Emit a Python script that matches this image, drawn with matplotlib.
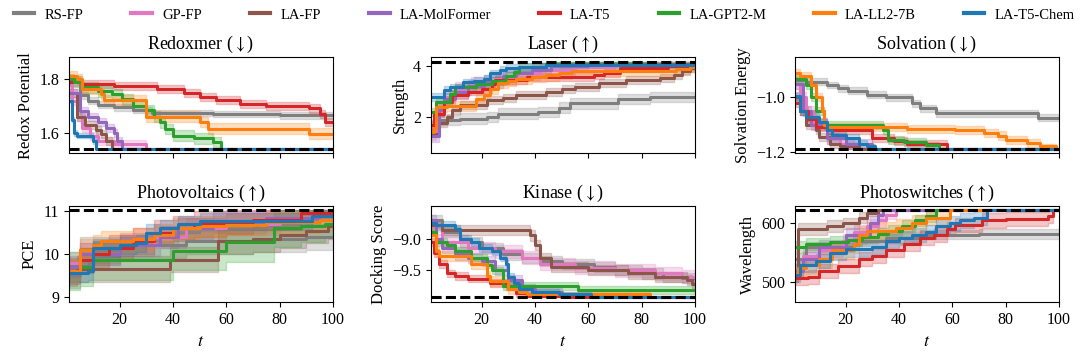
import matplotlib.pyplot as plt
import numpy as np
from matplotlib.lines import Line2D

plt.rcParams['font.family'] = ['Liberation Serif', 'DejaVu Serif']
plt.rcParams['mathtext.fontset'] = 'stix'

methods = ['RS-FP', 'GP-FP', 'LA-FP', 'LA-MolFormer', 'LA-T5', 'LA-GPT2-M', 'LA-LL2-7B', 'LA-T5-Chem']
colors = ['#7f7f7f', '#e377c2', '#8c564b', '#9467bd', '#d62728', '#2ca02c', '#ff7f0e', '#1f77b4']

# best-so-far curves: (step times, values) per method
redox = {
    'RS-FP': ([1, 5, 8, 12, 18, 25, 32, 55, 80], [1.80, 1.74, 1.72, 1.705, 1.695, 1.685, 1.675, 1.67, 1.665]),
    'GP-FP': ([1, 2, 4, 6, 9, 12, 18, 30], [1.78, 1.72, 1.66, 1.62, 1.59, 1.57, 1.56, 1.539]),
    'LA-FP': ([1, 4, 7, 11, 13, 15, 17], [1.75, 1.66, 1.63, 1.61, 1.595, 1.57, 1.539]),
    'LA-MolFormer': ([1, 5, 8, 12, 15, 18, 19, 21], [1.75, 1.68, 1.66, 1.64, 1.62, 1.60, 1.57, 1.539]),
    'LA-T5': ([1, 6, 18, 34, 44, 50, 56, 65, 75, 91, 95, 97],
              [1.79, 1.781, 1.775, 1.765, 1.747, 1.734, 1.722, 1.709, 1.70, 1.691, 1.672, 1.641]),
    'LA-GPT2-M': ([1, 3, 6, 12, 17, 21, 25, 30, 33, 35, 37, 40, 48, 55, 58],
                  [1.80, 1.79, 1.77, 1.755, 1.745, 1.725, 1.70, 1.685, 1.66, 1.64, 1.615, 1.59, 1.58, 1.566, 1.539]),
    'LA-LL2-7B': ([1, 4, 6, 13, 14, 30, 50, 53, 91], [1.81, 1.80, 1.765, 1.745, 1.722, 1.66, 1.641, 1.616, 1.597]),
    'LA-T5-Chem': ([1, 2, 3, 4, 10, 11], [1.72, 1.65, 1.60, 1.59, 1.57, 1.539]),
}
laser = {
    'RS-FP': ([1, 4, 12, 22, 26, 41, 49, 53, 71, 83], [1.7, 1.9, 1.96, 2.03, 2.15, 2.2, 2.38, 2.54, 2.72, 2.8]),
    'GP-FP': ([1, 3, 6, 10, 16, 25, 33, 42, 55, 70, 85], [1.4, 2.3, 2.8, 3.1, 3.3, 3.5, 3.7, 3.85, 3.95, 4.05, 4.1]),
    'LA-FP': ([1, 4, 7, 9, 12, 22, 28, 33, 44, 50, 55, 64, 74, 87, 92, 95, 98],
              [1.38, 1.8, 2.0, 2.28, 2.48, 2.67, 2.76, 2.88, 2.97, 3.1, 3.18, 3.32, 3.45, 3.52, 3.64, 3.78, 3.9]),
    'LA-MolFormer': ([1, 4, 6, 10, 15, 21, 28, 33, 39, 46, 60], [1.3, 2.3, 2.7, 3.0, 3.2, 3.4, 3.6, 3.7, 3.85, 4.0, 4.08]),
    'LA-T5': ([1, 2, 6, 9, 15, 20, 24, 25, 37, 62, 66, 72, 90],
              [1.7, 2.15, 2.6, 2.86, 3.0, 3.1, 3.3, 3.45, 3.57, 3.65, 3.73, 3.9, 4.0]),
    'LA-GPT2-M': ([1, 3, 8, 10, 18, 24, 29, 32, 34, 44], [2.2, 2.6, 2.9, 3.16, 3.3, 3.41, 3.6, 3.77, 3.96, 4.08]),
    'LA-LL2-7B': ([1, 2, 3, 7, 18, 21, 23, 26, 30, 33, 39, 44, 49, 54, 93, 98],
                  [1.45, 1.6, 2.41, 2.45, 2.7, 2.86, 3.1, 3.32, 3.4, 3.48, 3.55, 3.62, 3.7, 3.79, 3.86, 3.96]),
    'LA-T5-Chem': ([1, 6, 8, 13, 17, 21, 23, 27, 29, 34, 44], [2.8, 3.06, 3.16, 3.35, 3.41, 3.5, 3.7, 3.83, 3.9, 3.96, 4.03]),
}
solv = {
    'RS-FP': ([1, 5, 13, 17, 21, 28, 35, 45, 48, 54, 92],
              [-0.936, -0.942, -0.955, -0.967, -0.975, -0.99, -1.0, -1.022, -1.04, -1.059, -1.074]),
    'GP-FP': ([1, 3, 5, 8, 13, 18, 23], [-0.95, -1.0, -1.05, -1.1, -1.15, -1.17, -1.188]),
    'LA-FP': ([1, 3, 5, 9, 10, 14, 18, 25], [-1.0, -1.05, -1.1, -1.12, -1.145, -1.17, -1.18, -1.188]),
    'LA-MolFormer': ([1, 4, 7, 13, 20, 30], [-0.95, -1.05, -1.1, -1.15, -1.17, -1.188]),
    'LA-T5': ([1, 3, 6, 9, 13, 30, 38, 43, 58], [-1.02, -1.05, -1.08, -1.11, -1.12, -1.15, -1.16, -1.17, -1.188]),
    'LA-GPT2-M': ([1, 5, 7, 9, 12, 34, 36, 42, 50, 55],
                  [-0.934, -0.955, -1.0, -1.05, -1.102, -1.12, -1.157, -1.163, -1.175, -1.188]),
    'LA-LL2-7B': ([1, 3, 7, 9, 11, 12, 13, 43, 61, 72, 77, 80, 88, 93, 99],
                  [-0.909, -0.92, -0.955, -1.0, -1.05, -1.1, -1.108, -1.115, -1.12, -1.13, -1.14, -1.157, -1.169, -1.18, -1.188]),
    'LA-T5-Chem': ([1, 3, 5, 10, 13, 15, 20, 25, 28, 31],
                   [-0.995, -1.05, -1.071, -1.09, -1.12, -1.139, -1.15, -1.17, -1.18, -1.188]),
}
pv = {
    'RS-FP': ([1, 5, 20, 45, 70, 90], [9.5, 10.1, 10.2, 10.3, 10.35, 10.4]),
    'GP-FP': ([1, 5, 20, 33, 45, 60, 80, 92], [9.8, 10.0, 10.2, 10.4, 10.6, 10.7, 10.85, 10.9]),
    'LA-FP': ([1, 4, 39, 57, 70, 80, 90, 98], [9.55, 9.65, 9.87, 10.3, 10.35, 10.45, 10.55, 10.65]),
    'LA-MolFormer': ([1, 5, 20, 35, 42, 55, 75, 95], [9.7, 10.0, 10.2, 10.4, 10.6, 10.75, 10.85, 10.9]),
    'LA-T5': ([1, 5, 10, 16, 25, 33, 40, 48, 60, 70, 88],
              [9.6, 9.85, 10.0, 10.15, 10.3, 10.5, 10.6, 10.7, 10.75, 10.8, 10.97]),
    'LA-GPT2-M': ([1, 5, 10, 40, 60, 78, 88, 97], [9.6, 9.7, 9.85, 10.08, 10.27, 10.6, 10.65, 10.7]),
    'LA-LL2-7B': ([1, 5, 10, 13, 25, 33, 40, 50, 60, 75, 95],
                  [9.6, 10.1, 10.2, 10.3, 10.35, 10.45, 10.6, 10.65, 10.69, 10.75, 10.8]),
    'LA-T5-Chem': ([1, 8, 10, 20, 26, 30, 35, 42, 50, 92], [9.55, 9.6, 10.14, 10.2, 10.25, 10.5, 10.6, 10.7, 10.77, 10.9]),
}
kinase = {
    'RS-FP': ([1, 5, 12, 20, 28, 35, 42, 50, 62, 70, 80, 88, 95],
              [-8.7, -8.9, -9.05, -9.15, -9.25, -9.3, -9.35, -9.4, -9.45, -9.5, -9.55, -9.6, -9.62]),
    'GP-FP': ([1, 5, 15, 25, 35, 42, 55, 70, 85, 95], [-8.8, -9.05, -9.15, -9.2, -9.3, -9.4, -9.46, -9.5, -9.55, -9.6]),
    'LA-FP': ([1, 5, 38, 40, 42, 46, 60, 75, 85, 97, 99],
              [-8.78, -8.87, -8.95, -9.1, -9.3, -9.45, -9.49, -9.55, -9.6, -9.65, -9.72]),
    'LA-MolFormer': ([1, 3, 5, 10, 15, 20, 25, 30, 35, 40, 50, 60],
                     [-8.7, -9.0, -9.15, -9.25, -9.3, -9.35, -9.5, -9.65, -9.8, -9.85, -9.9, -9.92]),
    'LA-T5': ([1, 2, 4, 7, 10, 15, 23, 29, 33, 37, 50],
              [-9.05, -9.23, -9.4, -9.55, -9.59, -9.63, -9.7, -9.75, -9.86, -9.9, -9.92]),
    'LA-GPT2-M': ([1, 3, 7, 10, 16, 22, 24, 28, 56], [-8.9, -9.05, -9.1, -9.2, -9.3, -9.41, -9.5, -9.75, -9.81]),
    'LA-LL2-7B': ([1, 3, 4, 16, 22, 23, 30, 34, 37, 83], [-8.95, -9.2, -9.28, -9.4, -9.59, -9.67, -9.8, -9.84, -9.88, -9.92]),
    'LA-T5-Chem': ([1, 3, 10, 12, 16, 19, 24, 27, 29, 30, 32, 34, 39, 49, 61],
                   [-8.75, -8.78, -8.85, -9.0, -9.05, -9.15, -9.2, -9.3, -9.4, -9.6, -9.7, -9.8, -9.85, -9.88, -9.92]),
}
photo = {
    'RS-FP': ([1, 5, 23, 35, 48, 70], [540, 560, 570, 575, 581, 582]),
    'GP-FP': ([1, 4, 10, 19, 23, 28, 32, 35, 39], [520, 545, 555, 570, 585, 595, 605, 615, 622.6]),
    'LA-FP': ([1, 2, 13, 19, 25, 28, 32], [510, 590, 595, 600, 610, 618, 622.6]),
    'LA-MolFormer': ([1, 4, 10, 20, 29, 32, 34], [520, 540, 560, 580, 600, 615, 622.6]),
    'LA-T5': ([1, 6, 10, 17, 25, 30, 35, 42, 48, 53, 58, 61, 71, 80, 96, 98],
              [508, 510, 520, 528, 540, 545, 555, 565, 575, 580, 591, 598, 605, 608, 612, 622.6]),
    'LA-GPT2-M': ([1, 5, 14, 21, 26, 32, 36, 41, 46, 50, 54], [560, 565, 568, 572, 577, 582, 587, 595, 605, 612, 622.6]),
    'LA-LL2-7B': ([1, 2, 5, 10, 15, 23, 25, 28, 39, 45, 50, 59],
                  [515, 525, 530, 540, 555, 565, 580, 587, 592, 600, 610, 622.6]),
    'LA-T5-Chem': ([1, 3, 9, 14, 20, 30, 35, 40, 45, 50, 54, 59, 63, 68, 73],
                   [512, 530, 536, 550, 556, 560, 570, 575, 580, 585, 595, 600, 605, 610, 622.6]),
}

# band half-widths per method
redox_sd = [0.012, 0.015, 0.015, 0.015, 0.015, 0.02, 0.02, 0.01]
laser_sd = [0.2, 0.25, 0.15, 0.25, 0.15, 0.15, 0.2, 0.15]
solv_sd = [0.012, 0.02, 0.015, 0.02, 0.015, 0.015, 0.015, 0.015]
pv_sd = [0.3, 0.25, 0.3, 0.25, 0.3, 0.45, 0.25, 0.2]
kinase_sd = [0.08, 0.1, 0.08, 0.08, 0.06, 0.06, 0.08, 0.06]
photo_sd = [8, 12, 10, 12, 12, 10, 15, 12]

panels = [
    ('Redoxmer ($\\downarrow$)', 'Redox Potential', redox, redox_sd, 1.539, (1.5255, 1.881), [1.6, 1.8]),
    ('Laser ($\\uparrow$)', 'Strength', laser, laser_sd, 4.155, (0.63, 4.32), [2, 4]),
    ('Solvation ($\\downarrow$)', 'Solvation Energy', solv, solv_sd, -1.188, (-1.204, -0.853), [-1.2, -1.0]),
    ('Photovoltaics ($\\uparrow$)', 'PCE', pv, pv_sd, 11.03, (8.875, 11.117), [9, 10, 11]),
    ('Kinase ($\\downarrow$)', 'Docking Score', kinase, kinase_sd, -9.92, (-10.0, -8.49), [-9.5, -9.0]),
    ('Photoswitches ($\\uparrow$)', 'Wavelength', photo, photo_sd, 622.6, (467, 629), [500, 600]),
]

T = np.arange(1, 101)

fig = plt.figure(figsize=(10.8, 3.57), dpi=100)
lefts = [0.0639, 0.399, 0.736]
bottoms = [0.5714, 0.1541]

for i, (title, ylabel, data, sds, opt, ylim, yticks) in enumerate(panels):
    row, col = divmod(i, 3)
    ax = fig.add_axes([lefts[col], bottoms[row], 0.2444, 0.268])
    for m, c, sd in zip(methods, colors, sds):
        bt, bv = data[m]
        idx = np.searchsorted(bt, T, side='right') - 1
        y = np.asarray(bv, dtype=float)[idx]
        w = np.minimum(sd, np.abs(y - opt))
        ax.fill_between(T, y - w, y + w, step='post', color=c, alpha=0.25, lw=1)
        ax.plot(T, y, drawstyle='steps-post', color=c, lw=2.2)
    ax.axhline(opt, color='k', ls=(0, (3.3, 1.4)), lw=2.2, zorder=10)
    ax.set_xlim(1, 100)
    ax.set_ylim(*ylim)
    ax.set_xticks([20, 40, 60, 80, 100])
    ax.set_yticks(yticks)
    ax.tick_params(labelsize=11.5, length=3.5, width=0.8)
    ax.set_title(title, fontsize=13)
    ax.set_ylabel(ylabel, fontsize=12)
    if row == 0:
        ax.tick_params(labelbottom=False)
    else:
        ax.set_xlabel('$t$', fontsize=13)

handles = [Line2D([], [], color=c, lw=3) for c in colors]
fig.legend(handles, methods, loc='center', bbox_to_anchor=(0.504, 0.958), ncol=8, frameon=False,
           fontsize=10.5, handlelength=1.4, columnspacing=3.3, handletextpad=0.7)

fig.savefig('out.png', dpi=100)
